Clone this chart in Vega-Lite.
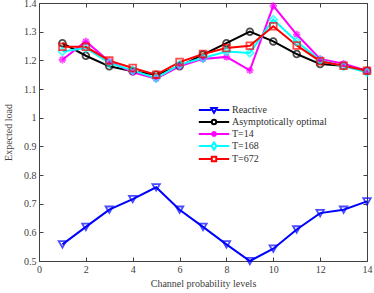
{
  "$schema": "https://vega.github.io/schema/vega-lite/v6.json",
  "width": 328,
  "height": 258,
  "autosize": "none",
  "padding": {"left": 39, "top": 3, "right": 7, "bottom": 32},
  "background": "white",
  "config": {
    "view": {"stroke": null},
    "font": "Liberation Serif",
    "axis": {
      "labelFont": "Liberation Serif",
      "titleFont": "Liberation Serif",
      "labelFontSize": 10,
      "titleFontSize": 10,
      "titleFontWeight": "normal",
      "labelColor": "#404040",
      "titleColor": "#404040",
      "domainColor": "#404040",
      "tickColor": "#404040",
      "grid": false,
      "tickSize": -4,
      "labelOverlap": false,
      "labelBound": false,
      "labelFlush": false
    },
    "point": {"filled": false, "strokeWidth": 1.8, "size": 55}
  },
  "data": {
    "values": [
      {"x": 1, "load": 0.558, "series": "Reactive"},
      {"x": 2, "load": 0.619, "series": "Reactive"},
      {"x": 3, "load": 0.679, "series": "Reactive"},
      {"x": 4, "load": 0.716, "series": "Reactive"},
      {"x": 5, "load": 0.757, "series": "Reactive"},
      {"x": 6, "load": 0.679, "series": "Reactive"},
      {"x": 7, "load": 0.619, "series": "Reactive"},
      {"x": 8, "load": 0.558, "series": "Reactive"},
      {"x": 9, "load": 0.5, "series": "Reactive"},
      {"x": 10, "load": 0.543, "series": "Reactive"},
      {"x": 11, "load": 0.61, "series": "Reactive"},
      {"x": 12, "load": 0.667, "series": "Reactive"},
      {"x": 13, "load": 0.679, "series": "Reactive"},
      {"x": 14, "load": 0.708, "series": "Reactive"},
      {"x": 1, "load": 1.26, "series": "Asymptotically optimal"},
      {"x": 2, "load": 1.216, "series": "Asymptotically optimal"},
      {"x": 3, "load": 1.179, "series": "Asymptotically optimal"},
      {"x": 4, "load": 1.162, "series": "Asymptotically optimal"},
      {"x": 5, "load": 1.15, "series": "Asymptotically optimal"},
      {"x": 6, "load": 1.179, "series": "Asymptotically optimal"},
      {"x": 7, "load": 1.22, "series": "Asymptotically optimal"},
      {"x": 8, "load": 1.26, "series": "Asymptotically optimal"},
      {"x": 9, "load": 1.3, "series": "Asymptotically optimal"},
      {"x": 10, "load": 1.266, "series": "Asymptotically optimal"},
      {"x": 11, "load": 1.222, "series": "Asymptotically optimal"},
      {"x": 12, "load": 1.187, "series": "Asymptotically optimal"},
      {"x": 13, "load": 1.181, "series": "Asymptotically optimal"},
      {"x": 14, "load": 1.164, "series": "Asymptotically optimal"},
      {"x": 1, "load": 1.202, "series": "T=14"},
      {"x": 2, "load": 1.266, "series": "T=14"},
      {"x": 3, "load": 1.196, "series": "T=14"},
      {"x": 4, "load": 1.158, "series": "T=14"},
      {"x": 5, "load": 1.136, "series": "T=14"},
      {"x": 6, "load": 1.179, "series": "T=14"},
      {"x": 7, "load": 1.205, "series": "T=14"},
      {"x": 8, "load": 1.212, "series": "T=14"},
      {"x": 9, "load": 1.165, "series": "T=14"},
      {"x": 10, "load": 1.39, "series": "T=14"},
      {"x": 11, "load": 1.29, "series": "T=14"},
      {"x": 12, "load": 1.205, "series": "T=14"},
      {"x": 13, "load": 1.188, "series": "T=14"},
      {"x": 14, "load": 1.164, "series": "T=14"},
      {"x": 1, "load": 1.231, "series": "T=168"},
      {"x": 2, "load": 1.243, "series": "T=168"},
      {"x": 3, "load": 1.19, "series": "T=168"},
      {"x": 4, "load": 1.165, "series": "T=168"},
      {"x": 5, "load": 1.138, "series": "T=168"},
      {"x": 6, "load": 1.185, "series": "T=168"},
      {"x": 7, "load": 1.208, "series": "T=168"},
      {"x": 8, "load": 1.231, "series": "T=168"},
      {"x": 9, "load": 1.226, "series": "T=168"},
      {"x": 10, "load": 1.342, "series": "T=168"},
      {"x": 11, "load": 1.266, "series": "T=168"},
      {"x": 12, "load": 1.2, "series": "T=168"},
      {"x": 13, "load": 1.179, "series": "T=168"},
      {"x": 14, "load": 1.158, "series": "T=168"},
      {"x": 1, "load": 1.247, "series": "T=672"},
      {"x": 2, "load": 1.247, "series": "T=672"},
      {"x": 3, "load": 1.199, "series": "T=672"},
      {"x": 4, "load": 1.173, "series": "T=672"},
      {"x": 5, "load": 1.15, "series": "T=672"},
      {"x": 6, "load": 1.194, "series": "T=672"},
      {"x": 7, "load": 1.222, "series": "T=672"},
      {"x": 8, "load": 1.243, "series": "T=672"},
      {"x": 9, "load": 1.251, "series": "T=672"},
      {"x": 10, "load": 1.319, "series": "T=672"},
      {"x": 11, "load": 1.252, "series": "T=672"},
      {"x": 12, "load": 1.197, "series": "T=672"},
      {"x": 13, "load": 1.181, "series": "T=672"},
      {"x": 14, "load": 1.164, "series": "T=672"}
    ]
  },
  "encoding": {
    "x": {"field": "x", "type": "quantitative", "scale": {"domain": [0, 14], "nice": false}, "axis": null},
    "y": {"field": "load", "type": "quantitative", "scale": {"domain": [0.5, 1.4], "nice": false, "zero": false}, "axis": null},
    "color": {
      "field": "series", "type": "nominal",
      "scale": {
        "domain": ["Reactive", "Asymptotically optimal", "T=14", "T=168", "T=672"],
        "range": ["#0000ff", "#000000", "#ff00ff", "#00ffff", "#ff0000"]
      },
      "legend": null
    }
  },
  "layer": [
    {
      "mark": {"type": "line", "strokeWidth": 2},
      "encoding": {
        "x": {
          "field": "x", "type": "quantitative",
          "scale": {"domain": [0, 14], "nice": false},
          "axis": {"values": [0, 2, 4, 6, 8, 10, 12, 14], "title": "Channel probability levels", "labelPadding": 7, "titlePadding": 4}
        },
        "y": {
          "field": "load", "type": "quantitative",
          "scale": {"domain": [0.5, 1.4], "nice": false, "zero": false},
          "axis": {"values": [0.5, 0.6, 0.7, 0.8, 0.9, 1, 1.1, 1.2, 1.3, 1.4], "format": ".1~f", "title": "Expected load", "labelPadding": 7, "titlePadding": 10}
        },
        "color": {
          "field": "series", "type": "nominal",
          "scale": {
            "domain": ["Reactive", "Asymptotically optimal", "T=14", "T=168", "T=672"],
            "range": ["#0000ff", "#000000", "#ff00ff", "#00ffff", "#ff0000"]
          },
          "legend": {
            "title": null,
            "orient": "none",
            "legendX": 170,
            "legendY": 102,
            "padding": 0,
            "symbolSize": 64,
            "symbolStrokeWidth": 2,
            "labelOffset": 13,
            "rowPadding": -3.3,
            "labelFont": "Liberation Serif",
            "labelFontSize": 10,
            "labelColor": "#303030",
            "encode": {
              "symbols": {
                "update": {
                  "fill": {"value": "white"},
                  "shape": {"signal": "datum.value === 'Reactive' ? 'M-3.8,0H-0.7M0.7,0H3.8M-0.7,-0.5L0.7,-0.5L0,0.7Z' : datum.value === 'Asymptotically optimal' ? 'M-3.8,0H-0.55M0.55,0H3.8M0.55,0A0.55,0.55 0 1,1 -0.55,0A0.55,0.55 0 1,1 0.55,0Z' : datum.value === 'T=14' ? 'M-3.8,0H3.8M0,-0.7V0.7M-0.5,-0.5L0.5,0.5M-0.5,0.5L0.5,-0.5' : datum.value === 'T=168' ? 'M-3.8,0H-0.6M0.6,0H3.8M0,-0.9L0.6,0L0,0.9L-0.6,0Z' : 'M-3.8,0H-0.55M0.55,0H3.8M-0.55,-0.55H0.55V0.55H-0.55Z'"}
                }
              }
            }
          }
        }
      }
    },
    {
      "transform": [{"filter": {"field": "series", "equal": "Reactive"}}],
      "mark": {"type": "point", "shape": "triangle-down"},
      "encoding": {
        "x": {
          "field": "x", "type": "quantitative",
          "scale": {"domain": [0, 14], "nice": false},
          "axis": {"orient": "top", "values": [0, 2, 4, 6, 8, 10, 12, 14], "labels": false, "title": null}
        },
        "y": {
          "field": "load", "type": "quantitative",
          "scale": {"domain": [0.5, 1.4], "nice": false, "zero": false},
          "axis": {"orient": "right", "values": [0.5, 0.6, 0.7, 0.8, 0.9, 1, 1.1, 1.2, 1.3, 1.4], "labels": false, "title": null}
        }
      }
    },
    {
      "transform": [{"filter": {"field": "series", "equal": "Asymptotically optimal"}}],
      "mark": {"type": "point", "shape": "circle", "size": 45}
    },
    {
      "transform": [{"filter": {"field": "series", "equal": "T=14"}}],
      "mark": {"type": "point", "shape": "M-1,0H1M0,-1V1M-0.7,-0.7L0.7,0.7M-0.7,0.7L0.7,-0.7"}
    },
    {
      "transform": [{"filter": {"field": "series", "equal": "T=168"}}],
      "mark": {"type": "point", "shape": "diamond", "size": 60}
    },
    {
      "transform": [{"filter": {"field": "series", "equal": "T=672"}}],
      "mark": {"type": "point", "shape": "square", "size": 45}
    }
  ],
  "resolve": {"axis": {"x": "independent", "y": "independent"}}
}
